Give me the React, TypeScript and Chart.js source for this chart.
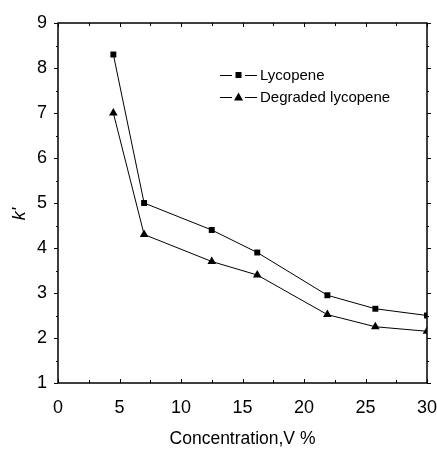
import React, { useEffect, useRef } from "react";
import { Chart, registerables } from "chart.js";

Chart.register(...registerables);

const concentration = [4.5, 7, 12.5, 16.2, 21.9, 25.8, 30];
const lycopene = [8.3, 5.0, 4.4, 3.9, 2.95, 2.65, 2.5];
const degradedLycopene = [7.0, 4.3, 3.7, 3.4, 2.52, 2.25, 2.15];
const seriesLabels = ["Lycopene", "Degraded lycopene"];
const xTitle = "Concentration,V %";
const yTitle = "k'";

const FONT = "'Liberation Sans', Arial, sans-serif";

const framePlugin = {
  id: "frameTicks",
  afterDraw(chart: any) {
    const ctx = chart.ctx;
    const { left, right, top, bottom } = chart.chartArea;
    const xs = chart.scales.x;
    const ys = chart.scales.y;
    ctx.save();
    ctx.strokeStyle = "#000";
    ctx.lineWidth = 1.5;
    ctx.strokeRect(left, top, right - left, bottom - top);
    ctx.lineWidth = 1;
    ctx.beginPath();
    for (let v = xs.min; v <= xs.max + 1e-9; v += 2.5) {
      const px = Math.round(xs.getPixelForValue(v)) + 0.5;
      const major = Math.abs(v / 5 - Math.round(v / 5)) < 1e-6;
      const len = major ? 4 : 3;
      ctx.moveTo(px, bottom);
      ctx.lineTo(px, bottom - len);
      ctx.moveTo(px, top);
      ctx.lineTo(px, top + len);
    }
    for (let v = ys.min; v <= ys.max + 1e-9; v += 0.5) {
      const py = Math.round(ys.getPixelForValue(v)) + 0.5;
      const major = Math.abs(v - Math.round(v)) < 1e-6;
      const len = major ? 4 : 2;
      ctx.moveTo(left, py);
      ctx.lineTo(left - len, py);
      ctx.moveTo(right, py);
      ctx.lineTo(right + len, py);
    }
    ctx.stroke();

    // y-axis title
    ctx.save();
    ctx.translate(20, 214);
    ctx.rotate(-Math.PI / 2);
    ctx.font = `italic 18px ${FONT}`;
    ctx.fillStyle = "#000";
    ctx.textAlign = "center";
    ctx.textBaseline = "middle";
    ctx.fillText(yTitle, 0, 0);
    ctx.restore();

    // legend
    const items = chart.data.datasets;
    const lx = 220;
    const rows = [75, 97];
    ctx.font = `15px ${FONT}`;
    ctx.textBaseline = "middle";
    ctx.textAlign = "left";
    items.forEach((ds: any, i: number) => {
      const y = rows[i];
      ctx.strokeStyle = "#000";
      ctx.lineWidth = 1;
      ctx.beginPath();
      ctx.moveTo(lx, y + 0.5);
      ctx.lineTo(lx + 12, y + 0.5);
      ctx.moveTo(lx + 25, y + 0.5);
      ctx.lineTo(lx + 37, y + 0.5);
      ctx.stroke();
      ctx.fillStyle = "#000";
      if (ds.pointStyle === "rect") {
        ctx.fillRect(lx + 15.5, y - 3, 6, 6);
      } else {
        ctx.beginPath();
        ctx.moveTo(lx + 18.5, y - 4.5);
        ctx.lineTo(lx + 23, y + 3.5);
        ctx.lineTo(lx + 14, y + 3.5);
        ctx.closePath();
        ctx.fill();
      }
      ctx.fillText(ds.label, lx + 40, y + 0.5);
    });
    ctx.restore();
  },
};

export default function App() {
  const ref = useRef<HTMLCanvasElement>(null);
  useEffect(() => {
    document.body.style.margin = "0";
    const chart = new Chart(ref.current as HTMLCanvasElement, {
      type: "line",
      data: {
        datasets: [
          {
            label: seriesLabels[0],
            data: concentration.map((x, i) => ({ x, y: lycopene[i] })),
            borderColor: "#000",
            backgroundColor: "#000",
            borderWidth: 1,
            pointStyle: "rect",
            pointRadius: 4.2,
            pointBorderWidth: 0,
            tension: 0,
          },
          {
            label: seriesLabels[1],
            data: concentration.map((x, i) => ({ x, y: degradedLycopene[i] })),
            borderColor: "#000",
            backgroundColor: "#000",
            borderWidth: 1,
            pointStyle: "triangle",
            pointRadius: 5,
            pointBorderWidth: 0,
            tension: 0,
          },
        ],
      },
      options: {
        animation: false,
        responsive: false,
        layout: { padding: { top: 23, right: 10, left: 0, bottom: 0 } },
        plugins: { legend: { display: false }, tooltip: { enabled: false } },
        scales: {
          x: {
            type: "linear",
            min: 0,
            max: 30,
            grid: { display: false, drawTicks: false },
            border: { display: false },
            ticks: {
              stepSize: 5,
              color: "#000",
              padding: 14,
              font: { family: FONT, size: 18 },
            },
            title: {
              display: true,
              text: xTitle,
              color: "#000",
              font: { family: FONT, size: 17.5, lineHeight: 1 },
              padding: { top: 0, bottom: 1 },
            },
            afterFit: (s: any) => {
              s.height = 66;
              s.paddingLeft = 0;
              s.paddingRight = 0;
            },
          },
          y: {
            type: "linear",
            min: 1,
            max: 9,
            grid: { display: false, drawTicks: false },
            border: { display: false },
            ticks: {
              stepSize: 1,
              color: "#000",
              padding: 11,
              font: { family: FONT, size: 18 },
            },
            afterFit: (s: any) => {
              s.width = 58;
              s.paddingTop = 0;
              s.paddingBottom = 0;
            },
          },
        },
      },
      plugins: [framePlugin],
    });
    return () => chart.destroy();
  }, []);
  return <canvas ref={ref} width={437} height={449} />;
}
